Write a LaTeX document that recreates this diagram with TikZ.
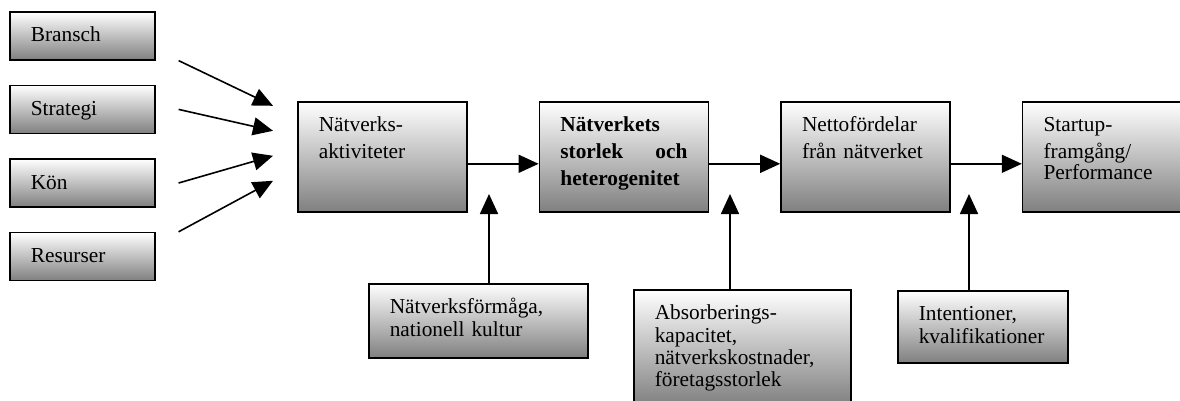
\documentclass[tikz,border=0pt]{standalone}
\usepackage{fontspec}
\setmainfont{Liberation Serif}
\usetikzlibrary{arrows.meta,positioning}
\tikzset{
  card/.style={
    rectangle,
    draw=black,
    line width=1.2pt,
    top color=white,
    bottom color=black!50,
    align=left,
    inner xsep=15.75pt,
    inner ysep=0pt,
    text height=22.5pt,
    font=\fontsize{16pt}{20.25pt}\selectfont
  },
  side/.style={card, text width=77.25pt, text depth=13.5pt},
  stage/.style={card, text width=95.25pt, text depth=60pt},
  factor/.style={card, font=\fontsize{16pt}{16.75pt}\selectfont},
  line/.style={-{Triangle[length=15pt,width=13.5pt]}, line width=1.2pt}
}

\begin{document}
\begin{tikzpicture}[x=0.75pt, y=-0.75pt, node distance=18pt and 53.25pt]
  \useasboundingbox (0,0) rectangle (1180,400);

  \node[side, anchor=north west] (bransch) at (9,11) {Bransch};
  \node[side, below=of bransch] (strategi) {Strategi};
  \node[side, below=of strategi] (kon) {Kön};
  \node[side, below=of kon] (resurser) {Resurser};

  \node[stage, anchor=north west] (aktiv) at (297,101) {Nätverks-\\aktiviteter};
  \node[stage, right=of aktiv] (storlek) {\bfseries Nätverkets\\storlek\hfill och\\heterogenitet};
  \node[stage, right=of storlek] (netto) {Nettofördelar\\från nätverket};
  \node[stage, text width=89.25pt, right=of netto] (startup) {Startup-\\framgång/\\[-4.5pt]Performance};

  \node[factor, text width=132.75pt, text depth=33pt, anchor=north west] (formaga) at (368,283) {Nätverksförmåga,\\nationell kultur};
  \node[factor, text width=131.25pt, text depth=64.5pt, anchor=north west] (absorb) at (633,289) {Absorberings-\\kapacitet,\\nätverkskostnader,\\företagsstorlek};
  \node[factor, text width=96pt, text depth=31.5pt, anchor=north west] (intent) at (897,290) {Intentioner,\\kvalifikationer};

  \coordinate (s1) at ([xshift=17.25pt]bransch.south east);
  \coordinate (s2) at ([xshift=17.25pt]strategi.east);
  \coordinate (s3) at ([xshift=17.25pt]kon.east);
  \coordinate (s4) at ([xshift=17.25pt]resurser.north east);
  \coordinate (t1) at ([xshift=-18pt, yshift=38.25pt]aktiv.west);
  \coordinate (t2) at ([xshift=-18pt, yshift=19.5pt]aktiv.west);
  \coordinate (t3) at ([xshift=-18pt, yshift=0.75pt]aktiv.west);
  \coordinate (t4) at ([xshift=-18pt, yshift=-18pt]aktiv.west);

  \coordinate (up1) at (489,194);
  \coordinate (up2) at (730,194);
  \coordinate (up3) at (969,194);

  \draw[line] (s1) -- (t1);
  \draw[line] (s2) -- (t2);
  \draw[line] (s3) -- (t3);
  \draw[line] (s4) -- (t4);

  \draw[line] ([yshift=-5.25pt]aktiv.east) -- ([yshift=-5.25pt]storlek.west);
  \draw[line] ([yshift=-5.25pt]storlek.east) -- ([yshift=-5.25pt]netto.west);
  \draw[line] ([yshift=-5.25pt]netto.east) -- ([yshift=-5.25pt]startup.west);

  \draw[line] (formaga.north -| up1) -- (up1);
  \draw[line] (absorb.north -| up2) -- (up2);
  \draw[line] (intent.north -| up3) -- (up3);
\end{tikzpicture}
\end{document}
